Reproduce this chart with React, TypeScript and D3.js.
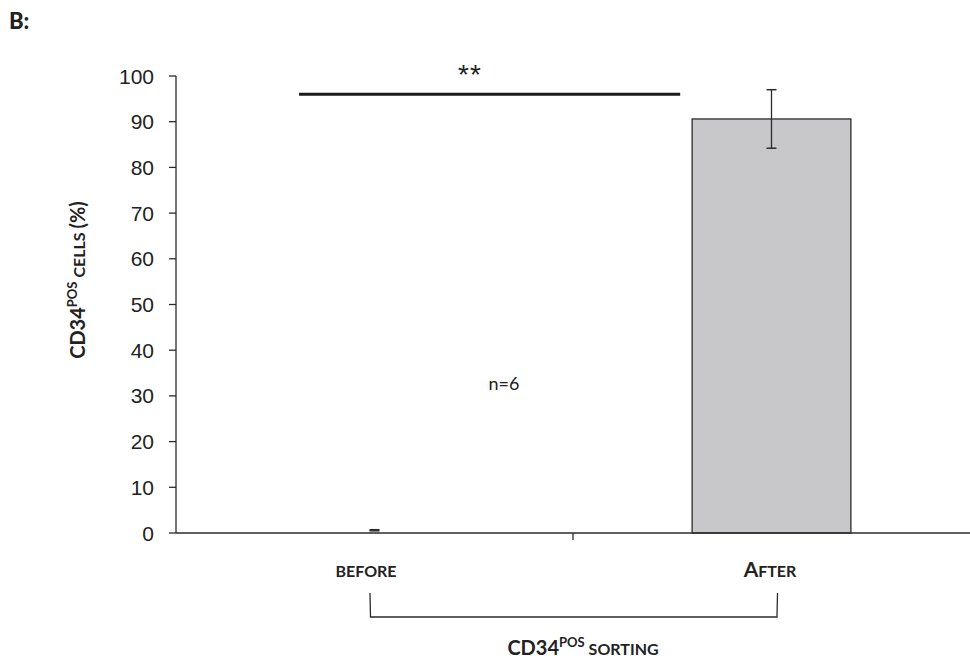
import React from "react";
import * as d3 from "d3";

const categories = ["BEFORE", "AFTER"];
const means = [0.6, 90.6];
const errors = [0.12, 6.4];
const yTicks = [0, 10, 20, 30, 40, 50, 60, 70, 80, 90, 100];
const sigLabel = "**";
const sigLevel = 96;
const nLabel = "n=6";

const W = 970;
const H = 664;
const left = 176;
const right = 970;
const top = 76;
const bottom = 533;

export default function App() {
  const y = d3.scaleLinear().domain([0, 100]).range([bottom, top]);
  const x = d3.scaleBand().domain(categories).range([left, right]).paddingInner(0).paddingOuter(0);
  const bw = x.bandwidth();
  const barW = bw * 0.4;
  const axisColor = "#2b2b2b";
  const lab = "Lato, 'Open Sans', sans-serif";
  const num = "'Liberation Sans', Arial, sans-serif";

  const sigX1 = (x("BEFORE") as number) + bw * 0.31;
  const sigX2 = (x("AFTER") as number) + bw * 0.27;

  return (
    <svg width={W} height={H} style={{ position: "absolute", left: 0, top: 0, background: "#fff" }}>
      <text x={9} y={29} fontFamily={lab} fontWeight={900} fontSize={22} fill="#222">B:</text>

      {/* bars */}
      {categories.map((c, i) => {
        const cx = (x(c) as number) + bw / 2;
        const h = bottom - y(means[i]);
        return (
          <g key={c}>
            {h > 3 && (
              <rect x={cx - barW / 2} y={y(means[i])} width={barW} height={h}
                fill="#c8c8ca" stroke={axisColor} strokeWidth={1.3} />
            )}
            <line x1={cx} x2={cx} y1={y(means[i] + errors[i])} y2={y(means[i] - errors[i])} stroke={axisColor} strokeWidth={1.3} />
            <line x1={cx - 5} x2={cx + 5} y1={y(means[i] + errors[i])} y2={y(means[i] + errors[i])} stroke={axisColor} strokeWidth={1.5} />
            <line x1={cx - 5} x2={cx + 5} y1={y(means[i] - errors[i])} y2={y(means[i] - errors[i])} stroke={axisColor} strokeWidth={1.5} />
          </g>
        );
      })}

      {/* y axis */}
      <line x1={left} x2={left} y1={y(100)} y2={bottom} stroke={axisColor} strokeWidth={1.3} />
      {yTicks.map((t) => (
        <g key={t}>
          <line x1={left - 7} x2={left} y1={y(t)} y2={y(t)} stroke={axisColor} strokeWidth={1.3} />
          <text x={154} y={y(t)} dy="0.36em" textAnchor="end" fontFamily={num} fontSize={21} fill="#222">{t}</text>
        </g>
      ))}

      {/* x axis */}
      <line x1={left} x2={right} y1={bottom} y2={bottom} stroke={axisColor} strokeWidth={1.3} />
      <line x1={x("AFTER") as number} x2={x("AFTER") as number} y1={bottom} y2={bottom + 7} stroke={axisColor} strokeWidth={1.3} />

      {/* significance */}
      <line x1={sigX1} x2={sigX2} y1={y(sigLevel)} y2={y(sigLevel)} stroke="#1a1a1a" strokeWidth={3} />
      <text x={470} y={84} textAnchor="middle" fontFamily={num} fontSize={28} fill="#222" letterSpacing={1}>{sigLabel}</text>
      <text x={504} y={390} textAnchor="middle" fontFamily={lab} fontSize={18} fill="#222">{nLabel}</text>

      {/* category labels */}
      <text x={366} y={577} textAnchor="middle" fontFamily={lab} fontWeight={700} fontSize={16} fill="#222">BEFORE</text>
      <text x={770} y={577} textAnchor="middle" fontFamily={lab} fontWeight={700} fill="#222">
        <tspan fontSize={21}>A</tspan><tspan fontSize={16}>FTER</tspan>
      </text>

      {/* bracket */}
      <path d={`M${370},${593} L${370.5},${617} L${777},${617} L${777.5},${593}`} fill="none" stroke={axisColor} strokeWidth={1.3} />
      <text x={583} y={655} textAnchor="middle" fontFamily={lab} fontWeight={700} fill="#222">
        <tspan fontSize={20}>CD34</tspan>
        <tspan fontSize={13} dy={-8}>POS</tspan>
        <tspan fontSize={16} dy={8}> SORTING</tspan>
      </text>

      {/* y label */}
      <text transform={`translate(85, 280) rotate(-90)`} textAnchor="middle" fontFamily={lab} fontWeight={700} fill="#222">
        <tspan fontSize={20}>CD34</tspan>
        <tspan fontSize={13} dy={-8}>POS</tspan>
        <tspan fontSize={16} dy={8}> CELLS </tspan>
        <tspan fontSize={20}>(%)</tspan>
      </text>
    </svg>
  );
}
